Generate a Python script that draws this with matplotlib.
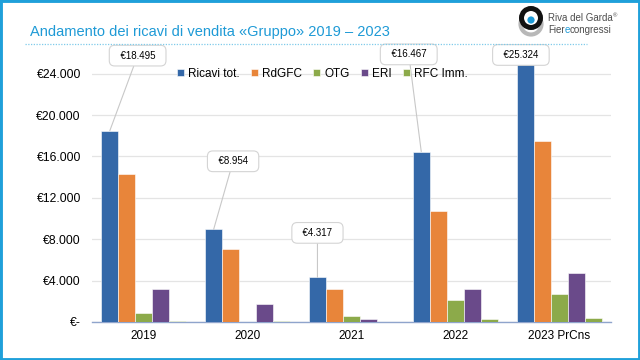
import matplotlib.pyplot as plt
from matplotlib.patches import Rectangle, Circle
from matplotlib.lines import Line2D
import numpy as np

plt.rcParams['font.family'] = ['Liberation Sans', 'DejaVu Sans']

years = ['2019', '2020', '2021', '2022', '2023 PrCns']
ricavi = [18495, 8954, 4317, 16467, 25324]
rdgfc = [14300, 7050, 3200, 10750, 17450]
otg = [850, 30, 580, 2150, 2750]
eri = [3150, 1750, 320, 3180, 4700]
rfc = [60, 60, 40, 250, 400]

series = [('Ricavi tot.', ricavi, '#3468A8'),
          ('RdGFC', rdgfc, '#E8853A'),
          ('OTG', otg, '#8CAA4A'),
          ('ERI', eri, '#6A4A8A'),
          ('RFC Imm.', rfc, '#8CAA4A')]

def eur(v):
    if v == 0:
        return '€-'
    return '€' + f"{int(round(v)):,}".replace(',', '.')

fig = plt.figure(figsize=(6.4, 3.6), dpi=100)
ax = fig.add_axes([92/640, 38/360, 519/640, 258.7/360])

x = np.arange(len(years)) + 0.5
w = 0.164
for i, (name, vals, col) in enumerate(series):
    ax.bar(x + (i - 2) * w, vals, w, color=col, label=name,
           edgecolor='white', linewidth=0.4, zorder=3)

ax.set_xlim(0, 5)
ax.set_ylim(0, 25000)
ax.set_yticks(range(0, 24001, 4000))
ax.set_yticklabels([eur(v) for v in range(0, 24001, 4000)], fontsize=8.8)
ax.set_xticks(x)
ax.set_xticklabels(years, fontsize=8.5)
ax.tick_params(length=0, pad=8)
ax.tick_params(axis='x', pad=6)
ax.grid(axis='y', color='#E4E4E4', lw=0.9, zorder=0)
for s in ['top', 'right', 'left']:
    ax.spines[s].set_visible(False)
ax.spines['bottom'].set_color('#8FA4CC')
ax.spines['bottom'].set_linewidth(1.0)

# callouts on the total revenue bars
offsets = [(20, 54), (14, 49), (0, 32), (-9, 70), (-3, 6)]
for xi, v, off, k in zip(x, ricavi, offsets, range(5)):
    bx = xi - 2 * w
    arrow = dict(arrowstyle='-', color='#C8C8C8', lw=0.8, shrinkA=0, shrinkB=0) if k < 4 else None
    ax.annotate('  ' + eur(v) + '  ', xy=(bx, min(v, 25000)), xytext=off,
                textcoords='offset points', ha='center', va='center', fontsize=7,
                bbox=dict(boxstyle='round,pad=0.55', fc='white', ec='#D4D4D4', lw=0.8),
                arrowprops=arrow, annotation_clip=False, zorder=5)

ax.legend(loc='center left', bbox_to_anchor=((177-92)/519 - 0.012, 0.96), ncol=5,
          frameon=False, fontsize=8.5, handlelength=0.6, handleheight=0.6,
          handletextpad=0.35, columnspacing=0.95, borderpad=0)

# title, dotted rule and border
fig.text(30/640, 1 - 32/360, 'Andamento dei ricavi di vendita «Gruppo» 2019 – 2023',
         fontsize=10.5, color='#1E9AD6', va='center', ha='left')
fig.add_artist(Line2D([25/640, 587/640], [1 - 44/360] * 2, transform=fig.transFigure,
                      color='#7FCBEA', lw=0.9, ls=(0, (1, 1.2))))
fig.add_artist(Rectangle((0, 0), 1, 1, transform=fig.transFigure, fill=False,
                         ec='#1FA0DA', lw=3.5))

# logo (drawn in pixel units)
lax = fig.add_axes([512/640, 1 - 42/360, 40/640, 40/360])
lax.set_xlim(512, 552)
lax.set_ylim(42, 2)
lax.axis('off')
lax.add_patch(Circle((531, 24), 10.5, fill=False, ec='#B8B8B8', lw=3.0))
lax.add_patch(Circle((531, 18), 9.5, fc='white', ec='#111111', lw=3.6))
lax.add_patch(Circle((531, 20), 3.6, fc='#1E9AD6', ec='none'))
t1 = fig.text(548/640, 1 - 18/360, 'Riva del Garda', fontsize=7.0, color='#4D4D4D', va='center')
ax.annotate('®', xy=(1, 1), xycoords=t1, va='top', ha='left', fontsize=4.2, color='#4D4D4D')
t2 = fig.text(548/640, 1 - 30/360, 'Fier', fontsize=7.0, color='#4D4D4D', va='center')
t3 = ax.annotate('e', xy=(1, 0), xycoords=t2, va='bottom', fontsize=7.0, color='#1E9AD6')
ax.annotate('congressi', xy=(1, 0), xycoords=t3, va='bottom', fontsize=7.0, color='#4D4D4D')

fig.savefig('out.png', dpi=100)
